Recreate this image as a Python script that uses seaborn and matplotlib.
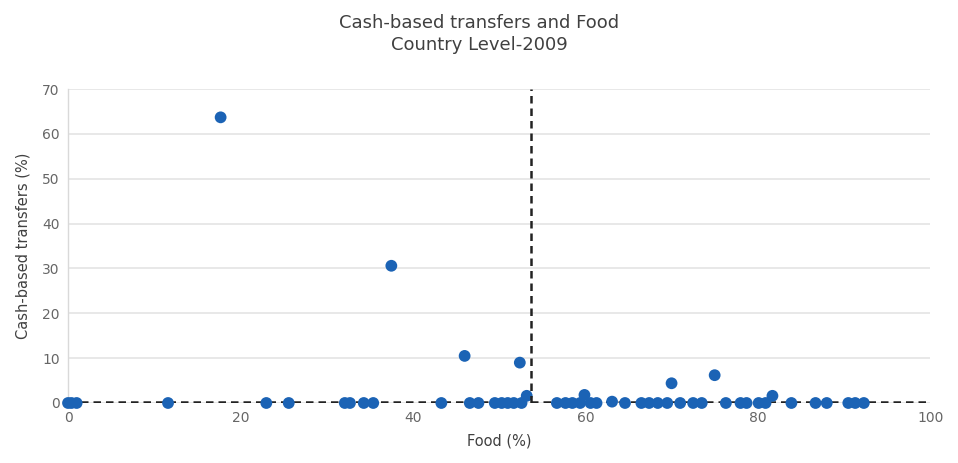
import numpy as np
import pandas as pd
import matplotlib
matplotlib.use("Agg")
import matplotlib.pyplot as plt
import seaborn as sns

# values
food_pct = [0.0, 0.4, 1.0, 11.6, 17.7, 23.0, 25.6, 32.1, 32.7, 34.3, 35.4,
            37.5, 43.3, 46.0, 46.6, 47.6, 49.5, 50.3, 51.0, 51.7, 52.4, 52.6,
            53.2, 56.7, 57.7, 58.5, 59.4, 59.9, 60.6, 61.3, 63.1, 64.6, 66.5,
            67.4, 68.4, 69.5, 70.0, 71.0, 72.5, 73.5, 75.0, 76.3, 78.0, 78.7,
            80.1, 80.9, 81.7, 83.9, 86.7, 88.0, 90.5, 91.3, 92.3]
cash_pct = [0.0, 0.0, 0.0, 0.0, 63.7, 0.0, 0.0, 0.0, 0.0, 0.0, 0.0,
            30.6, 0.0, 10.5, 0.0, 0.0, 0.0, 0.0, 0.0, 0.0, 9.0, 0.0,
            1.6, 0.0, 0.0, 0.0, 0.0, 1.8, 0.0, 0.0, 0.3, 0.0, 0.0,
            0.0, 0.0, 0.0, 4.4, 0.0, 0.0, 0.0, 6.2, 0.0, 0.0, 0.0,
            0.0, 0.0, 1.6, 0.0, 0.0, 0.0, 0.0, 0.0, 0.0]
food_ref = 53.7   # vertical dashed reference line
cash_ref = 0.3    # horizontal dashed reference line

df = pd.DataFrame({"Food (%)": food_pct, "Cash-based transfers (%)": cash_pct})

sns.set_style("white")
plt.rcParams["font.family"] = ["DejaVu Sans"]

fig = plt.figure(figsize=(9.58, 4.63), dpi=100)
ax = fig.add_axes([0.071, 0.1296, 0.900, 0.678])

# grid
ax.set_axisbelow(True)
ax.yaxis.grid(True, color="#e4e4e4", linewidth=1.2)
ax.xaxis.grid(False)

sns.scatterplot(data=df, x="Food (%)", y="Cash-based transfers (%)", ax=ax,
                color="#1b63b5", s=72, edgecolor="none", zorder=3, clip_on=False)

ax.axvline(food_ref, ymin=0, ymax=1, color="#222222", linestyle=(0, (3, 2)),
           linewidth=1.8, zorder=4)
ax.axhline(cash_ref, color="#222222", linestyle=(0, (3, 2)), linewidth=1.8, zorder=2.5)

ax.set_xlim(0, 100)
ax.set_ylim(0, 70)
ax.set_xticks(np.arange(0, 101, 20))
ax.set_yticks(np.arange(0, 71, 10))

for side in ["top", "right", "bottom"]:
    ax.spines[side].set_visible(False)
ax.spines["left"].set_color("#d9d9d9")
ax.spines["left"].set_linewidth(1.0)

ax.tick_params(axis="both", length=0, labelsize=10, colors="#666666", pad=6)
ax.set_xlabel("Food (%)", fontsize=10.5, color="#404040", labelpad=6)
ax.set_ylabel("Cash-based transfers (%)", fontsize=10.5, color="#404040", labelpad=8)

fig.suptitle("Cash-based transfers and Food\nCountry Level-2009", fontsize=13,
             color="#404040", y=0.97, linespacing=1.3)

plt.savefig("out.png", dpi=100)
plt.close()
